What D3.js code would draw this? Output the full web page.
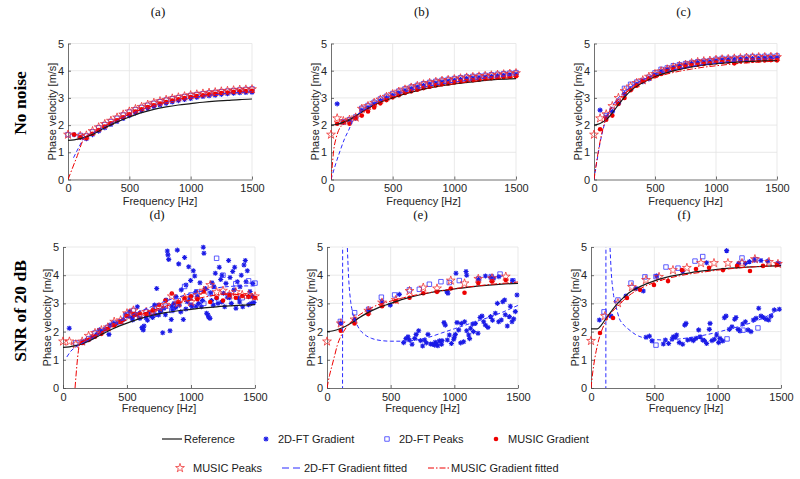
<!DOCTYPE html>
<html><head><meta charset="utf-8">
<script src="https://cdn.jsdelivr.net/npm/d3@7"></script>
<style>body{margin:0;background:#fff}svg{display:block}</style>
</head><body><svg id="c" width="800" height="479"></svg>
<script>
// ---------------- DATA ----------------
const xTicks = [0, 500, 1000, 1500];
const yTicks = [0, 1, 2, 3, 4, 5];
const panelTitles = ["(a)", "(b)", "(c)", "(d)", "(e)", "(f)"];
const rowLabels = ["No noise", "SNR of 20 dB"];
const legendNames = ["Reference", "2D-FT Gradient", "2D-FT Peaks", "MUSIC Gradient", "MUSIC Peaks", "2D-FT Gradient fitted", "MUSIC Gradient fitted"];

const freqTop = [0,50,100,150,200,250,300,350,400,450,500,550,600,650,700,750,800,850,900,950,1000,1050,1100,1150,1200,1250,1300,1350,1400,1450,1500];

// reference curves [f, v]
const refA = [[0,1.44],[50,1.46],[100,1.5],[150,1.57],[200,1.66],[300,1.9],[400,2.12],[500,2.3],[600,2.46],[700,2.58],[800,2.67],[900,2.74],[1000,2.79],[1100,2.84],[1200,2.88],[1300,2.91],[1400,2.94],[1500,2.96]];
const refB = [[0,2.0],[50,2.03],[100,2.1],[150,2.2],[200,2.33],[250,2.48],[300,2.62],[400,2.84],[500,3.0],[600,3.15],[700,3.27],[800,3.37],[900,3.45],[1000,3.51],[1100,3.57],[1200,3.62],[1300,3.66],[1400,3.69],[1500,3.71]];
const refC = [[0,2.0],[50,2.06],[100,2.2],[150,2.45],[200,2.75],[250,3.03],[300,3.26],[400,3.56],[500,3.78],[600,3.93],[700,4.05],[800,4.14],[900,4.21],[1000,4.26],[1100,4.3],[1200,4.32],[1300,4.34],[1400,4.36],[1500,4.37]];
const refF = [[0,2.1],[50,2.1],[80,2.22],[120,2.48],[160,2.72],[200,2.95],[250,3.18],[300,3.38],[400,3.62],[500,3.8],[600,3.93],[700,4.02],[800,4.1],[900,4.16],[1000,4.21],[1100,4.25],[1200,4.28],[1300,4.3],[1400,4.32],[1500,4.34]];

// (a) no noise
const aGrad       = [null,1.65,1.55,1.5,1.65,1.78,1.9,2.02,2.13,2.24,2.35,2.45,2.53,2.61,2.68,2.74,2.8,2.85,2.9,2.94,2.98,3.02,3.05,3.08,3.1,3.13,3.15,3.17,3.19,3.2,3.21];
const aPeaks      = [1.65,null,1.62,1.6,1.75,1.9,2.02,2.13,2.25,2.37,2.48,2.57,2.65,2.73,2.8,2.86,2.92,2.97,3.01,3.05,3.09,3.12,3.15,3.18,3.2,3.23,3.25,3.27,3.29,3.31,3.33];
const aMusicGrad  = [null,1.65,1.55,1.52,1.68,1.82,1.95,2.07,2.18,2.29,2.4,2.5,2.58,2.66,2.73,2.79,2.85,2.9,2.95,2.99,3.03,3.07,3.1,3.13,3.15,3.18,3.2,3.22,3.24,3.25,3.26];
const aMusicPeaks = [1.65,null,1.6,1.62,1.78,1.92,2.04,2.16,2.28,2.39,2.5,2.59,2.67,2.75,2.82,2.88,2.93,2.98,3.02,3.06,3.1,3.13,3.16,3.19,3.21,3.24,3.26,3.28,3.3,3.31,3.32];
const aFitGrad  = [[45,0.8],[90,1.2],[136,1.56],[200,1.7],[300,1.95],[400,2.17],[500,2.38],[600,2.56],[700,2.7],[800,2.82],[900,2.92],[1000,3.0],[1100,3.07],[1200,3.12],[1300,3.17],[1400,3.2],[1500,3.23]];
const aFitMusic = [[0,0],[68,0.78],[136,1.54],[200,1.7],[300,1.96],[400,2.19],[500,2.4],[600,2.58],[700,2.72],[800,2.85],[900,2.95],[1000,3.03],[1100,3.1],[1200,3.16],[1300,3.2],[1400,3.24],[1500,3.26]];

// (b) no noise
const bGrad       = [null,2.78,2.1,2.15,2.25,2.55,2.65,2.78,2.9,3.0,3.1,3.19,3.27,3.34,3.4,3.46,3.51,3.55,3.59,3.62,3.65,3.68,3.71,3.73,3.75,3.77,3.79,3.81,3.83,3.85,3.87];
const bPeaks      = [null,null,2.12,2.2,2.3,2.62,2.72,2.84,2.96,3.06,3.16,3.25,3.33,3.4,3.46,3.52,3.57,3.61,3.65,3.68,3.71,3.74,3.77,3.79,3.81,3.83,3.85,3.87,3.89,3.91,3.93];
const bMusicGrad  = [null,2.05,2.1,2.05,2.25,2.35,2.5,2.65,2.8,2.92,3.02,3.1,3.18,3.24,3.3,3.36,3.41,3.46,3.5,3.53,3.57,3.6,3.62,3.65,3.67,3.7,3.72,3.74,3.76,3.78,3.8];
const bMusicPeaks = [1.65,2.25,2.15,2.2,2.28,2.6,2.7,2.82,2.94,3.04,3.14,3.23,3.31,3.38,3.44,3.5,3.55,3.59,3.63,3.66,3.69,3.72,3.75,3.77,3.79,3.81,3.83,3.85,3.87,3.89,3.91];
const bFitGrad  = [[0,0],[40,0.6],[75,1.07],[110,1.5],[143,1.81],[184,2.24],[250,2.5],[300,2.65],[400,2.9],[500,3.08],[600,3.22],[700,3.34],[800,3.44],[900,3.52],[1000,3.58],[1100,3.64],[1200,3.7],[1300,3.75],[1400,3.8],[1500,3.84]];
const bFitMusic = [[0,0],[10,0.5],[22,1.08],[40,1.5],[62,1.81],[90,2.0],[116,2.12],[170,2.24],[250,2.45],[300,2.6],[400,2.85],[500,3.02],[600,3.16],[700,3.27],[800,3.37],[900,3.45],[1000,3.52],[1100,3.58],[1200,3.63],[1300,3.68],[1400,3.72],[1500,3.76]];

// (c) no noise
const cGrad       = [null,2.55,2.3,2.5,2.8,3.15,3.32,3.5,3.6,3.7,3.85,3.98,4.05,4.12,4.18,4.22,4.26,4.3,4.32,4.34,4.37,4.4,4.41,4.42,4.43,4.44,4.45,4.46,4.47,4.48,4.48];
const cPeaks      = [null,null,2.35,2.55,2.85,3.35,3.5,3.58,3.64,3.76,3.92,4.05,4.1,4.18,4.22,4.26,4.3,4.33,4.35,4.37,4.42,4.45,4.45,4.46,4.47,4.5,4.52,4.52,4.53,4.53,4.54];
const cMusicGrad  = [null,1.85,2.2,2.35,2.78,3.0,3.28,3.45,3.62,3.72,3.8,3.88,3.98,4.05,4.1,4.15,4.2,4.22,4.25,4.27,4.3,4.32,4.33,4.27,4.35,4.36,4.37,4.38,4.38,4.39,4.38];
const cMusicPeaks = [1.65,2.25,2.4,2.7,3.0,3.25,3.42,3.55,3.65,3.78,3.88,3.98,4.05,4.12,4.18,4.22,4.28,4.32,4.35,4.37,4.4,4.42,4.43,4.45,4.46,4.48,4.49,4.5,4.5,4.51,4.5];
const cFitGrad  = [[0,0],[25,0.7],[50,1.35],[75,1.85],[100,2.25],[150,2.7],[200,3.0],[250,3.22],[300,3.4],[400,3.66],[500,3.85],[600,3.98],[700,4.08],[800,4.16],[900,4.23],[1000,4.28],[1100,4.33],[1200,4.37],[1300,4.4],[1400,4.43],[1500,4.45]];
const cFitMusic = [[0,0],[25,0.75],[50,1.4],[75,1.9],[100,2.25],[150,2.68],[200,2.95],[250,3.15],[300,3.32],[400,3.58],[500,3.75],[600,3.88],[700,3.98],[800,4.06],[900,4.13],[1000,4.18],[1100,4.23],[1200,4.27],[1300,4.3],[1400,4.33],[1500,4.35]];

// (d) SNR 20 dB
const dGrad = [[49,2.12],[159,1.64],[185,1.7],[224,1.8],[263,1.9],[284,2.06],[302,2.0],[328,2.08],[359,1.9],[367,2.23],[393,2.29],[419,2.29],[445,2.35],[471,2.43],[487,2.59],[510,2.55],[523,2.71],[540,2.5],[544,2.41],[562,2.62],[580,2.6],[581,2.88],[601,2.47],[617,2.14],[627,2.06],[633,2.2],[648,2.49],[659,2.62],[660,2.4],[674,2.67],[690,2.55],[700,2.5],[706,2.77],[716,2.94],[720,2.6],[732,3.53],[747,2.59],[760,2.75],[763,2.71],[779,1.96],[789,2.83],[800,2.6],[805,3.12],[815,4.86],[820,4.72],[826,4.56],[836,2.03],[846,2.43],[850,2.9],[857,2.77],[867,3.0],[880,2.85],[883,3.24],[893,4.89],[904,4.4],[909,2.94],[920,2.7],[924,3.48],[940,2.43],[950,4.63],[960,2.8],[961,3.65],[971,3.06],[982,4.3],[992,3.18],[997,3.81],[1000,2.95],[1008,2.88],[1018,4.16],[1029,3.97],[1039,3.42],[1040,2.9],[1049,3.24],[1060,3.0],[1070,3.73],[1081,2.88],[1090,3.1],[1096,4.99],[1101,4.78],[1112,3.53],[1122,2.65],[1133,2.59],[1138,2.51],[1148,2.47],[1154,3.38],[1160,3.1],[1164,3.73],[1174,2.94],[1180,3.59],[1190,4.07],[1200,3.18],[1211,3.0],[1221,4.28],[1232,3.85],[1240,3.05],[1242,4.0],[1253,3.36],[1263,2.88],[1273,3.71],[1284,3.22],[1294,4.52],[1300,3.2],[1305,3.92],[1315,3.0],[1326,4.13],[1336,3.48],[1341,4.28],[1351,2.83],[1362,3.77],[1372,3.18],[1380,3.05],[1383,3.59],[1393,4.0],[1404,2.88],[1414,4.36],[1424,4.52],[1430,3.77],[1440,4.16],[1450,3.24],[1450,2.95],[1461,3.42],[1471,3.0],[1480,3.25],[1482,3.71],[1492,3.03]];
const dPeaks      = [null,null,1.6,1.62,1.75,1.95,2.0,2.15,2.3,2.35,2.6,2.75,2.55,2.7,2.65,2.85,2.9,2.75,3.1,3.6,3.3,3.4,3.0,3.35,4.6,4.0,3.3,3.7,3.2,3.8,3.72];
const dMusicGrad  = [null,null,null,1.6,1.7,1.82,1.92,2.1,2.22,2.35,2.55,2.62,2.65,2.62,2.75,2.95,3.1,3.35,3.05,3.18,3.25,3.15,3.42,3.05,3.2,3.1,3.3,3.2,3.26,3.24,3.2];
const dMusicPeaks = [1.65,1.65,1.55,1.65,1.85,1.95,2.05,2.15,2.35,2.4,2.65,2.75,2.6,2.7,2.7,2.85,2.95,3.25,3.0,3.2,3.05,3.3,3.45,3.65,3.4,3.45,3.3,3.4,3.3,3.3,3.25];
const dFitGrad  = [[30,1.1],[60,1.3],[100,1.45],[133,1.55],[200,1.7],[300,1.98],[400,2.25],[500,2.5],[600,2.72],[700,2.9],[800,3.08],[900,3.22],[1000,3.35],[1100,3.45],[1200,3.55],[1300,3.6],[1400,3.62],[1500,3.62]];
const dFitMusic = [[94,0],[133,1.58],[200,1.75],[300,1.98],[400,2.2],[500,2.42],[600,2.6],[700,2.75],[800,2.9],[900,3.02],[1000,3.12],[1100,3.22],[1200,3.3],[1300,3.33],[1400,3.3],[1500,3.25]];

// (e) SNR 20 dB
const eGrad = [[105,2.29],[217,2.43],[327,2.74],[432,3.05],[497,2.94],[568,3.32],[942,3.41],[950,3.36],[1013,4.07],[1092,4.13],[1097,4.0],[1190,3.85],[1244,3.97],[1285,3.92],[1309,3.89],[1350,3.95],[1458,3.81],
  [602,1.61],[620,1.75],[636,1.82],[647,1.7],[668,1.55],[689,1.76],[700,1.9],[720,2.03],[736,1.68],[751,1.49],[767,1.7],[780,1.6],[793,1.9],[814,1.56],[830,1.55],[846,1.52],[850,1.62],[861,1.56],[870,1.5],[882,1.67],[900,1.55],[903,1.68],[919,2.32],[929,2.23],[945,1.7],[961,1.88],[977,1.58],[995,1.73],[1000,1.8],[1008,1.9],[1021,2.32],[1034,2.06],[1050,1.6],[1055,2.29],[1073,1.64],[1081,2.35],[1097,2.03],[1113,1.88],[1120,1.75],[1128,2.12],[1144,2.27],[1150,2.0],[1165,2.29],[1186,1.94],[1202,2.5],[1217,2.55],[1230,2.35],[1244,2.23],[1264,2.15],[1285,2.53],[1300,2.4],[1322,2.65],[1338,3.0],[1348,2.35],[1369,2.41],[1380,3.06],[1395,3.12],[1400,2.6],[1416,2.2],[1432,2.53],[1440,2.9],[1453,2.35],[1466,2.45],[1479,2.71],[1492,3.3]];
const ePeaks = [[105,2.36],[217,2.67],[327,2.79],[427,3.22],[531,3.3],[647,3.48],[725,3.5],[804,3.68],[895,3.77],[960,3.74],[1039,3.81],[1191,3.87],[1290,3.95],[1359,4.04],[1460,3.8]];
const eMusicGrad = [[108,2.03],[216,2.29],[324,2.62],[432,2.9],[540,3.08],[648,3.2],[756,3.36],[864,3.41],[972,3.53],[1080,3.38],[1188,3.72],[1296,3.78],[1404,3.83]];
const eMusicPeaks = [[0,1.65],[108,2.29],[216,2.43],[324,2.74],[432,3.03],[540,3.12],[648,3.44],[756,3.56],[864,3.53],[972,3.81],[1080,3.71],[1188,3.87],[1296,3.89],[1404,3.95]];
const eFitGradLeft = [[122,-1],[123,6]];
const eFitGrad  = [[158,5.2],[170,3.9],[185,3.1],[200,2.7],[225,2.35],[250,2.12],[300,1.88],[350,1.76],[400,1.7],[500,1.66],[600,1.66],[700,1.7],[800,1.8],[900,1.95],[1000,2.1],[1100,2.25],[1200,2.4],[1300,2.55],[1400,2.73],[1500,2.93]];
const eFitMusic = [[0,0],[20,0.45],[40,0.8],[60,1.15],[80,1.5],[100,1.75],[130,2.0],[160,2.2],[200,2.4],[250,2.58],[300,2.72],[400,2.95],[500,3.08],[600,3.2],[700,3.3],[800,3.38],[900,3.45],[1000,3.52],[1100,3.58],[1200,3.63],[1300,3.68],[1400,3.72],[1500,3.76]];

// (f) SNR 20 dB
const fGrad = [[66,2.41],[158,2.55],[276,3.26],[355,3.53],[413,3.44],[518,3.97],[724,4.13],[913,4.44],[1071,4.87],[1166,4.42],[1219,4.42],[1250,4.48],[1290,4.54],[1342,4.52],[1395,4.5],[1474,4.42],
  [434,1.8],[461,1.84],[482,1.67],[571,1.56],[587,1.7],[613,1.58],[640,1.73],[650,1.82],[666,1.8],[676,1.88],[697,1.61],[724,1.55],[740,2.23],[750,2.29],[763,1.7],[790,1.73],[808,1.68],[829,1.76],[850,2.06],[861,1.82],[882,1.7],[895,1.68],[913,1.58],[934,2.08],[940,2.29],[955,1.68],[974,1.73],[992,1.88],[1008,1.61],[1018,1.76],[1040,1.67],[1053,2.49],[1066,2.55],[1092,2.08],[1113,2.17],[1134,2.44],[1145,2.5],[1161,2.08],[1176,2.02],[1198,2.27],[1219,2.35],[1240,2.06],[1263,2.0],[1282,2.41],[1303,2.47],[1324,2.83],[1342,2.55],[1361,2.5],[1382,2.44],[1403,2.41],[1421,2.55],[1447,2.77],[1487,2.79]];
const fPeaks = [[103,2.7],[213,3.12],[316,3.72],[426,3.94],[513,3.95],[592,4.29],[687,4.25],[821,4.5],[882,4.66],[1192,4.61],[1300,4.55],[1480,4.4],[513,1.52],[1074,1.74],[1200,2.05],[1318,2.13]];
const fMusicGrad = [[71,1.95],[174,2.48],[284,3.19],[387,3.48],[497,3.65],[608,3.79],[718,4.18],[829,4.22],[932,4.26],[1042,4.18],[1153,4.33],[1255,4.15],[1358,4.33],[1468,4.36]];
const fMusicPeaks = [[0,1.67],[110,2.55],[213,3.01],[323,3.58],[434,3.83],[537,3.94],[647,4.18],[757,4.26],[868,4.43],[971,4.43],[1081,4.43],[1192,4.43],[1294,4.57],[1405,4.47],[1476,4.4]];
const fFitGradLeft = [[117,-1],[118,6]];
const fFitGrad  = [[148,5.2],[160,4.1],[175,3.4],[200,2.85],[225,2.45],[250,2.28],[300,2.07],[350,1.9],[400,1.8],[500,1.72],[600,1.7],[700,1.74],[800,1.8],[900,1.88],[1000,1.98],[1100,2.1],[1200,2.22],[1300,2.37],[1400,2.57],[1500,2.83]];
const fFitMusic = [[0,0],[15,0.6],[30,1.05],[50,1.5],[70,1.85],[92,2.12],[120,2.4],[145,2.59],[200,2.85],[250,3.08],[300,3.28],[400,3.55],[500,3.74],[600,3.88],[700,3.98],[800,4.06],[900,4.12],[1000,4.18],[1100,4.23],[1200,4.27],[1300,4.3],[1400,4.32],[1500,4.33]];

// ---------------- DRAWING ----------------
const zip = (fs, vs) => fs.map((f, i) => [f, vs[i]]).filter(d => d[1] != null);
const COL = {blue: "#1a1ae6", sq: "#3535ff", red: "#ee0000", star: "#ee2a2a", ref: "#1a1a1a"};
const SANS = "'Liberation Sans', Arial, Helvetica, sans-serif";
const SERIF = "'Liberation Serif', 'Times New Roman', serif";

const asteriskType = {draw(ctx, size) {
  const r = Math.sqrt(size) / 2, q = r * 0.72;
  ctx.moveTo(-r, 0); ctx.lineTo(r, 0);
  ctx.moveTo(0, -r); ctx.lineTo(0, r);
  ctx.moveTo(-q, -q); ctx.lineTo(q, q);
  ctx.moveTo(-q, q); ctx.lineTo(q, -q);
}};
const symAst = d3.symbol().type(asteriskType).size(26)();
const symSq = d3.symbol().type(d3.symbolSquare).size(20)();
const symStar = d3.symbol().type(d3.symbolStar).size(24)();

const svg = d3.select("#c");
svg.append("rect").attr("width", 800).attr("height", 479).attr("fill", "#fff");

const layout = [
  {x0: 68, x1: 252, yt: 43.5, yb: 179.5},
  {x0: 331, x1: 516, yt: 43.5, yb: 179.5},
  {x0: 594, x1: 777, yt: 43.5, yb: 179.5},
  {x0: 63, x1: 255, yt: 247, yb: 388},
  {x0: 327, x1: 518, yt: 247, yb: 388},
  {x0: 591, x1: 781, yt: 247, yb: 388}
];
const titleY = [16, 16, 16, 219, 219, 219];

const panels = [
  {ref: refA, grad: zip(freqTop, aGrad), peaks: zip(freqTop, aPeaks), mg: zip(freqTop, aMusicGrad), mp: zip(freqTop, aMusicPeaks), fitG: [aFitGrad], fitM: aFitMusic},
  {ref: refB, grad: zip(freqTop, bGrad), peaks: zip(freqTop, bPeaks), mg: zip(freqTop, bMusicGrad), mp: zip(freqTop, bMusicPeaks), fitG: [bFitGrad], fitM: bFitMusic},
  {ref: refC, grad: zip(freqTop, cGrad), peaks: zip(freqTop, cPeaks), mg: zip(freqTop, cMusicGrad), mp: zip(freqTop, cMusicPeaks), fitG: [cFitGrad], fitM: cFitMusic},
  {ref: refA, grad: dGrad, peaks: zip(freqTop, dPeaks), mg: zip(freqTop, dMusicGrad), mp: zip(freqTop, dMusicPeaks), fitG: [dFitGrad], fitM: dFitMusic},
  {ref: refB, grad: eGrad, peaks: ePeaks, mg: eMusicGrad, mp: eMusicPeaks, fitG: [eFitGradLeft, eFitGrad], fitM: eFitMusic},
  {ref: refF, grad: fGrad, peaks: fPeaks, mg: fMusicGrad, mp: fMusicPeaks, fitG: [fFitGradLeft, fFitGrad], fitM: fFitMusic}
];

const fmt = d3.format("d");

panels.forEach((p, i) => {
  const L = layout[i];
  const x = d3.scaleLinear().domain([0, 1500]).range([L.x0, L.x1]);
  const y = d3.scaleLinear().domain([0, 5]).range([L.yb, L.yt]);
  const g = svg.append("g");
  const cid = "clip" + i;
  g.append("clipPath").attr("id", cid).append("rect")
    .attr("x", L.x0).attr("y", L.yt).attr("width", L.x1 - L.x0).attr("height", L.yb - L.yt);

  // grid
  g.append("g").selectAll("line").data(xTicks.slice(1)).join("line")
    .attr("x1", d => x(d)).attr("x2", d => x(d)).attr("y1", L.yt).attr("y2", L.yb)
    .attr("stroke", "#e3e3e3").attr("stroke-width", 0.8);
  g.append("g").selectAll("line").data(yTicks.slice(1)).join("line")
    .attr("x1", L.x0).attr("x2", L.x1).attr("y1", d => y(d)).attr("y2", d => y(d))
    .attr("stroke", "#e3e3e3").attr("stroke-width", 0.8);

  // axes
  const ax = g.append("g").attr("transform", `translate(0,${L.yb})`)
    .call(d3.axisBottom(x).tickValues(xTicks).tickFormat(fmt).tickSizeInner(-3).tickSizeOuter(0).tickPadding(5));
  const ay = g.append("g").attr("transform", `translate(${L.x0},0)`)
    .call(d3.axisLeft(y).tickValues(yTicks).tickFormat(fmt).tickSizeInner(-3).tickSizeOuter(0).tickPadding(4));
  [ax, ay].forEach(a => {
    a.select(".domain").attr("stroke", "#4d4d4d").attr("stroke-width", 0.8);
    a.selectAll(".tick line").attr("stroke", "#4d4d4d").attr("stroke-width", 0.8);
    a.selectAll("text").attr("font-family", SANS).attr("font-size", 11).attr("fill", "#262626");
  });

  // axis titles
  g.append("text").attr("x", (L.x0 + L.x1) / 2).attr("y", i < 3 ? 205 : 412)
    .attr("text-anchor", "middle").attr("font-family", SANS).attr("font-size", 11).attr("fill", "#262626")
    .text("Frequency [Hz]");
  g.append("text").attr("transform", `translate(${L.x0 - 12},${(L.yt + L.yb) / 2}) rotate(-90)`)
    .attr("text-anchor", "middle").attr("font-family", SANS).attr("font-size", 11).attr("fill", "#262626")
    .text("Phase velocity [m/s]");

  // panel title
  g.append("text").attr("x", (L.x0 + L.x1) / 2 - 2).attr("y", titleY[i])
    .attr("text-anchor", "middle").attr("font-family", SERIF).attr("font-size", 13).attr("fill", "#111")
    .text(panelTitles[i]);

  // markers
  g.append("g").selectAll("path").data(p.grad).join("path")
    .attr("d", symAst).attr("transform", d => `translate(${x(d[0])},${y(d[1])})`)
    .attr("fill", "none").attr("stroke", COL.blue).attr("stroke-width", 1.1);
  g.append("g").selectAll("path").data(p.peaks).join("path")
    .attr("d", symSq).attr("transform", d => `translate(${x(d[0])},${y(d[1])})`)
    .attr("fill", "none").attr("stroke", COL.sq).attr("stroke-width", 0.8);
  g.append("g").selectAll("circle").data(p.mg).join("circle")
    .attr("cx", d => x(d[0])).attr("cy", d => y(d[1])).attr("r", 2.3)
    .attr("fill", COL.red);
  g.append("g").selectAll("path").data(p.mp).join("path")
    .attr("d", symStar).attr("transform", d => `translate(${x(d[0])},${y(d[1])})`)
    .attr("fill", "none").attr("stroke", COL.star).attr("stroke-width", 0.75);

  // lines
  const line = d3.line().x(d => x(d[0])).y(d => y(d[1])).curve(d3.curveMonotoneX);
  const lg = g.append("g").attr("clip-path", `url(#${cid})`);
  lg.append("path").attr("d", line(p.ref)).attr("fill", "none").attr("stroke", COL.ref).attr("stroke-width", 1.2);
  p.fitG.forEach(seg => {
    lg.append("path").attr("d", line(seg)).attr("fill", "none").attr("stroke", "#2b2bff")
      .attr("stroke-width", 1).attr("stroke-dasharray", "4,2.5");
  });
  lg.append("path").attr("d", line(p.fitM)).attr("fill", "none").attr("stroke", COL.red)
    .attr("stroke-width", 1).attr("stroke-dasharray", "6,2,1.5,2");
});

// row labels
[[26, 103], [26, 311]].forEach((pos, i) => {
  svg.append("text").attr("transform", `translate(${pos[0]},${pos[1]}) rotate(-90)`)
    .attr("text-anchor", "middle").attr("font-family", SERIF).attr("font-weight", "bold")
    .attr("font-size", 17.5).attr("fill", "#000").text(rowLabels[i]);
});

// legend
const lgd = svg.append("g").attr("font-family", SANS).attr("font-size", 11).attr("fill", "#1a1a1a");
const r1 = 439, r2 = 468;
lgd.append("line").attr("x1", 162).attr("x2", 182).attr("y1", r1).attr("y2", r1).attr("stroke", COL.ref).attr("stroke-width", 1.2);
lgd.append("text").attr("x", 184).attr("y", r1 + 4).text(legendNames[0]);
lgd.append("path").attr("d", symAst).attr("transform", `translate(266,${r1})`).attr("fill", "none").attr("stroke", COL.blue).attr("stroke-width", 1.1);
lgd.append("text").attr("x", 278).attr("y", r1 + 4).text(legendNames[1]);
lgd.append("path").attr("d", symSq).attr("transform", `translate(387,${r1})`).attr("fill", "none").attr("stroke", COL.sq).attr("stroke-width", 0.8);
lgd.append("text").attr("x", 399).attr("y", r1 + 4).text(legendNames[2]);
lgd.append("circle").attr("cx", 496).attr("cy", r1).attr("r", 2.3).attr("fill", COL.red);
lgd.append("text").attr("x", 508).attr("y", r1 + 4).text(legendNames[3]);
lgd.append("path").attr("d", symStar).attr("transform", `translate(180,${r2})`).attr("fill", "none").attr("stroke", COL.star).attr("stroke-width", 0.75);
lgd.append("text").attr("x", 193).attr("y", r2 + 4).text(legendNames[4]);
lgd.append("line").attr("x1", 282).attr("x2", 301).attr("y1", r2).attr("y2", r2).attr("stroke", "#2b2bff").attr("stroke-width", 1).attr("stroke-dasharray", "7,4");
lgd.append("text").attr("x", 304).attr("y", r2 + 4).text(legendNames[5]);
lgd.append("line").attr("x1", 428).attr("x2", 449).attr("y1", r2).attr("y2", r2).attr("stroke", COL.red).attr("stroke-width", 1).attr("stroke-dasharray", "6,2,1.5,2");
lgd.append("text").attr("x", 451).attr("y", r2 + 4).text(legendNames[6]);
</script></body></html>
